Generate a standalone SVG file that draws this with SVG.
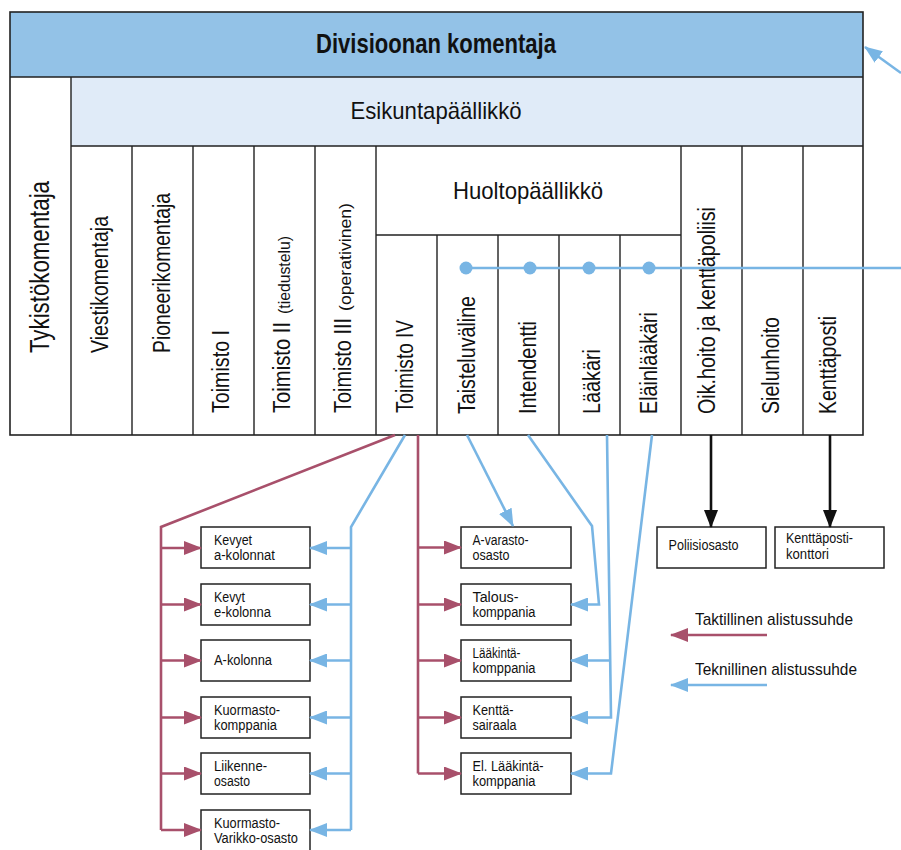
<svg xmlns="http://www.w3.org/2000/svg" width="901" height="850" viewBox="0 0 901 850">
<style>
text{font-family:"Liberation Sans",Arial,sans-serif;fill:#111}
.frame{fill:none;stroke:#222;stroke-width:1.6}
.ln{stroke:#222;stroke-width:1.4;fill:none}
.box{fill:#fff;stroke:#222;stroke-width:1.5}
.bt{font-size:14px}
.col{font-size:23px}
.red{stroke:#A8506B;stroke-width:2.6;fill:none}
.blue{stroke:#78B5E4;stroke-width:2.6;fill:none}
.blk{stroke:#111;stroke-width:2.6;fill:none}
.ra{marker-end:url(#ahr)}
.ba{marker-end:url(#ahb)}
.ka{marker-end:url(#ahk)}
</style>
<defs>
<marker id="ahr" markerUnits="userSpaceOnUse" markerWidth="18" markerHeight="14" refX="17" refY="7" orient="auto"><path d="M0,0 L18,7 L0,14 z" fill="#A8506B"/></marker>
<marker id="ahb" markerUnits="userSpaceOnUse" markerWidth="18" markerHeight="14" refX="17" refY="7" orient="auto"><path d="M0,0 L18,7 L0,14 z" fill="#78B5E4"/></marker>
<marker id="ahk" markerUnits="userSpaceOnUse" markerWidth="18" markerHeight="14" refX="17" refY="7" orient="auto"><path d="M0,0 L18,7 L0,14 z" fill="#111"/></marker>
</defs>
<rect width="901" height="850" fill="#fff"/>

<g id="divisioonan-komentaja">
<rect x="10" y="12" width="853" height="65" fill="#93C2E7"/>
<text x="436" y="53" font-size="27" font-weight="bold" text-anchor="middle" textLength="240" lengthAdjust="spacingAndGlyphs">Divisioonan komentaja</text>
</g>
<g id="esikuntapaallikko">
<rect x="71" y="77" width="792" height="69" fill="#E0EBF8"/>
<text x="436" y="119" font-size="24" text-anchor="middle" textLength="171" lengthAdjust="spacingAndGlyphs">Esikuntapäällikkö</text>
</g>
<g id="frame-lines">
<rect class="frame" x="10" y="12" width="853" height="423"/>
<path class="ln" d="M10,77 H863 M71,77 V435 M71,146 H863 M132,146 V435 M193,146 V435 M254,146 V435 M315,146 V435 M376,146 V435 M681,146 V435 M742,146 V435 M803,146 V435 M376,235 H681 M437,235 V435 M498,235 V435 M559,235 V435 M620,235 V435"/>
</g>
<g id="huoltopaallikko">
<text x="528" y="199" font-size="24" text-anchor="middle" textLength="150" lengthAdjust="spacingAndGlyphs">Huoltopäällikkö</text>
</g>
<g id="tykistokomentaja"><text transform="translate(49,353) rotate(-90)" font-size="28" textLength="172" lengthAdjust="spacingAndGlyphs">Tykistökomentaja</text></g>
<g id="viestikomentaja"><text class="col" transform="translate(108,353) rotate(-90)" textLength="137" lengthAdjust="spacingAndGlyphs">Viestikomentaja</text></g>
<g id="pioneerikomentaja"><text class="col" transform="translate(169.5,353) rotate(-90)" textLength="160" lengthAdjust="spacingAndGlyphs">Pioneerikomentaja</text></g>
<g id="toimisto-1"><text class="col" transform="translate(228.5,413) rotate(-90)" textLength="83" lengthAdjust="spacingAndGlyphs">Toimisto I</text></g>
<g id="toimisto-2"><text class="col" transform="translate(289.5,413) rotate(-90)" textLength="91" lengthAdjust="spacingAndGlyphs">Toimisto II</text>
<text transform="translate(290,314) rotate(-90)" font-size="16.5" textLength="78" lengthAdjust="spacingAndGlyphs">(tiedustelu)</text></g>
<g id="toimisto-3"><text class="col" transform="translate(350.5,413) rotate(-90)" textLength="95" lengthAdjust="spacingAndGlyphs">Toimisto III</text>
<text transform="translate(351,311) rotate(-90)" font-size="16.5" textLength="108" lengthAdjust="spacingAndGlyphs">(operativinen)</text></g>
<g id="toimisto-4"><text class="col" transform="translate(413,413) rotate(-90)" textLength="93" lengthAdjust="spacingAndGlyphs">Toimisto IV</text></g>
<g id="taisteluvaline"><text class="col" transform="translate(475,414) rotate(-90)" textLength="118" lengthAdjust="spacingAndGlyphs">Taisteluväline</text></g>
<g id="intendentti"><text class="col" transform="translate(536,414) rotate(-90)" textLength="93" lengthAdjust="spacingAndGlyphs">Intendentti</text></g>
<g id="laakari"><text class="col" transform="translate(599.5,414) rotate(-90)" textLength="65" lengthAdjust="spacingAndGlyphs">Lääkäri</text></g>
<g id="elainlaakari"><text class="col" transform="translate(656.5,414) rotate(-90)" textLength="102" lengthAdjust="spacingAndGlyphs">Eläinlääkäri</text></g>
<g id="oikeushoito"><text class="col" transform="translate(714.5,414) rotate(-90)" textLength="207" lengthAdjust="spacingAndGlyphs">Oik.hoito ja kenttäpoliisi</text></g>
<g id="sielunhoito"><text class="col" transform="translate(779,414) rotate(-90)" textLength="97" lengthAdjust="spacingAndGlyphs">Sielunhoito</text></g>
<g id="kenttaposti"><text class="col" transform="translate(835.5,414) rotate(-90)" textLength="98" lengthAdjust="spacingAndGlyphs">Kenttäposti</text></g>

<g id="kevyet-a-kolonnat"><rect class="box" x="201" y="527" width="109" height="41"/><text class="bt" x="214" y="544.5" textLength="38" lengthAdjust="spacingAndGlyphs">Kevyet</text><text class="bt" x="214" y="560" textLength="61" lengthAdjust="spacingAndGlyphs">a-kolonnat</text></g>
<g id="kevyt-e-kolonna"><rect class="box" x="201" y="584" width="109" height="41"/><text class="bt" x="214" y="601.5" textLength="31" lengthAdjust="spacingAndGlyphs">Kevyt</text><text class="bt" x="214" y="617" textLength="57" lengthAdjust="spacingAndGlyphs">e-kolonna</text></g>
<g id="a-kolonna"><rect class="box" x="201" y="640" width="109" height="41"/><text class="bt" x="214" y="664.5" textLength="58" lengthAdjust="spacingAndGlyphs">A-kolonna</text></g>
<g id="kuormastokomppania"><rect class="box" x="201" y="697" width="109" height="41"/><text class="bt" x="214" y="714.5" textLength="66" lengthAdjust="spacingAndGlyphs">Kuormasto-</text><text class="bt" x="214" y="730" textLength="63" lengthAdjust="spacingAndGlyphs">komppania</text></g>
<g id="liikenneosasto"><rect class="box" x="201" y="753" width="109" height="41"/><text class="bt" x="214" y="770.5" textLength="53" lengthAdjust="spacingAndGlyphs">Liikenne-</text><text class="bt" x="214" y="786" textLength="36" lengthAdjust="spacingAndGlyphs">osasto</text></g>
<g id="kuormasto-varikko-osasto"><rect class="box" x="201" y="810" width="109" height="42"/><text class="bt" x="214" y="827.5" textLength="66" lengthAdjust="spacingAndGlyphs">Kuormasto-</text><text class="bt" x="214" y="843.3" textLength="84" lengthAdjust="spacingAndGlyphs">Varikko-osasto</text></g>

<g id="a-varasto-osasto"><rect class="box" x="461" y="527" width="110" height="41"/><text class="bt" x="472.5" y="544.5" textLength="56" lengthAdjust="spacingAndGlyphs">A-varasto-</text><text class="bt" x="472.5" y="560" textLength="37" lengthAdjust="spacingAndGlyphs">osasto</text></g>
<g id="talouskomppania"><rect class="box" x="461" y="584" width="110" height="41"/><text class="bt" x="472.5" y="601.5" textLength="46" lengthAdjust="spacingAndGlyphs">Talous-</text><text class="bt" x="472.5" y="617" textLength="63" lengthAdjust="spacingAndGlyphs">komppania</text></g>
<g id="laakintakomppania"><rect class="box" x="461" y="640" width="110" height="41"/><text class="bt" x="472.5" y="657.5" textLength="48" lengthAdjust="spacingAndGlyphs">Lääkintä-</text><text class="bt" x="472.5" y="673" textLength="63" lengthAdjust="spacingAndGlyphs">komppania</text></g>
<g id="kenttasairaala"><rect class="box" x="461" y="697" width="110" height="41"/><text class="bt" x="472.5" y="714.5" textLength="41" lengthAdjust="spacingAndGlyphs">Kenttä-</text><text class="bt" x="472.5" y="730" textLength="44" lengthAdjust="spacingAndGlyphs">sairaala</text></g>
<g id="el-laakintakomppania"><rect class="box" x="461" y="753" width="110" height="41"/><text class="bt" x="472.5" y="770.5" textLength="71" lengthAdjust="spacingAndGlyphs">El. Lääkintä-</text><text class="bt" x="472.5" y="786" textLength="63" lengthAdjust="spacingAndGlyphs">komppania</text></g>

<g id="poliisiosasto"><rect class="box" x="657" y="527" width="109" height="41"/><text class="bt" x="668.5" y="550" textLength="70" lengthAdjust="spacingAndGlyphs">Poliisiosasto</text></g>
<g id="kenttapostikonttori"><rect class="box" x="775" y="527" width="109" height="41"/><text class="bt" x="786" y="543" textLength="67" lengthAdjust="spacingAndGlyphs">Kenttäposti-</text><text class="bt" x="786" y="559" textLength="43" lengthAdjust="spacingAndGlyphs">konttori</text></g>

<g id="legend">
<text x="695" y="625" font-size="17" textLength="158" lengthAdjust="spacingAndGlyphs">Taktillinen alistussuhde</text>
<path class="red ra" d="M767,635 H671"/>
<text x="695" y="675" font-size="17" textLength="162" lengthAdjust="spacingAndGlyphs">Teknillinen alistussuhde</text>
<path class="blue ba" d="M767,685 H671"/>
</g>

<g id="connectors">
<path class="blue" d="M466,268 H901"/>
<g fill="#78B5E4"><circle cx="466" cy="268" r="6.5"/><circle cx="530" cy="268" r="6.5"/><circle cx="589" cy="268" r="6.5"/><circle cx="649" cy="268" r="6.5"/></g>
<path class="blue ba" d="M901,73 L865,47"/>

<path class="red" d="M395,435 L161,527 V830"/>
<path class="red ra" d="M161,548 H201"/>
<path class="red ra" d="M161,604.5 H201"/>
<path class="red ra" d="M161,660.5 H201"/>
<path class="red ra" d="M161,717.5 H201"/>
<path class="red ra" d="M161,773.5 H201"/>
<path class="red ra" d="M161,830 H201"/>

<path class="blue" d="M405,435 L351,527 V830"/>
<path class="blue ba" d="M351,548 H310"/>
<path class="blue ba" d="M351,604.5 H310"/>
<path class="blue ba" d="M351,660.5 H310"/>
<path class="blue ba" d="M351,717.5 H310"/>
<path class="blue ba" d="M351,773.5 H310"/>
<path class="blue ba" d="M351,830 H310"/>

<path class="red" d="M418,435 V773.5"/>
<path class="red ra" d="M418,547.5 H461"/>
<path class="red ra" d="M418,604.5 H461"/>
<path class="red ra" d="M418,660.5 H461"/>
<path class="red ra" d="M418,717.5 H461"/>
<path class="red ra" d="M418,773.5 H461"/>

<path class="blue ba" d="M467,435 L513,526"/>
<path class="blue ba" d="M528,435 L592,526 L599,604.5 H571"/>
<path class="blue ba" d="M607,435 L611,717.5 H571"/>
<path class="blue ba" d="M609.5,660.5 H571"/>
<path class="blue ba" d="M652,435 L611,773.5 H571"/>

<path class="blk ka" d="M711,435 V527"/>
<path class="blk ka" d="M830,435 V527"/>
</g>
</svg>
